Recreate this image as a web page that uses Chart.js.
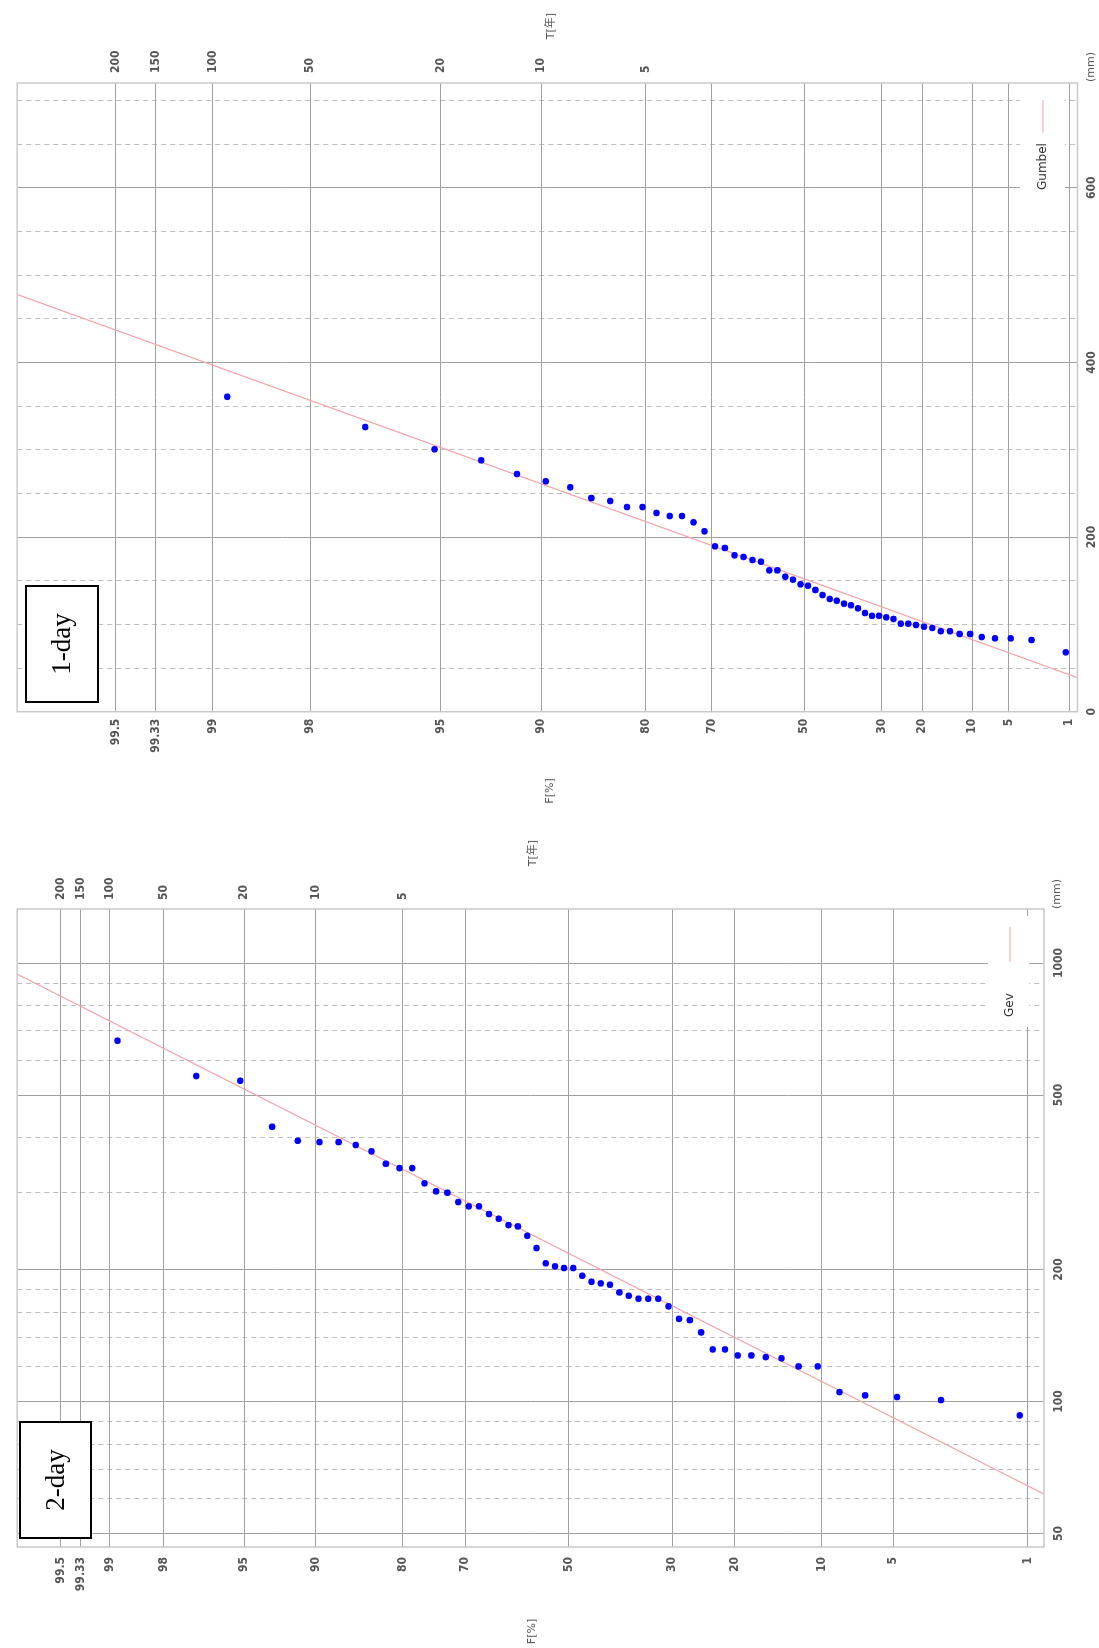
<!DOCTYPE html>
<html>
<head>
<meta charset="utf-8">
<script src="https://cdn.jsdelivr.net/npm/chart.js@4.4.1/dist/chart.umd.min.js"></script>
<style>
html, body { margin: 0; padding: 0; background: #fff; overflow: hidden; width: 1099px; height: 1648px; }
.turn { position: absolute; left: 0; transform-origin: 0 0; transform: rotate(-90deg); }
canvas { display: block; }
</style>
</head>
<body>
<div class="turn" style="top:815px;width:815px;height:1099px"><canvas id="c1" width="815" height="1099"></canvas></div>
<div class="turn" style="top:1648px;width:833px;height:1099px"><canvas id="c2" width="833" height="1099"></canvas></div>
<script>
// probability axis ticks (non-exceedance F %) and return period labels
var fTicks = [99.5, 99.333, 99, 98, 95, 90, 80, 70, 50, 30, 20, 10, 5, 1];
var fLabels = ['99.5', '99.33', '99', '98', '95', '90', '80', '70', '50', '30', '20', '10', '5', '1'];
var tTicks = [99.5, 99.333, 99, 98, 95, 90, 80];
var tLabels = ['200', '150', '100', '50', '20', '10', '5'];

// plotting positions of the 54 ranked values (F %)
var plotF = [98.89, 97.05, 95.20, 93.36, 91.51, 89.67, 87.82, 85.98, 84.13, 82.29,
             80.44, 78.60, 76.75, 74.91, 73.06, 71.22, 69.37, 67.53, 65.68, 63.84,
             61.99, 60.15, 58.30, 56.46, 54.61, 52.77, 50.92, 49.08, 47.23, 45.39,
             43.54, 41.70, 39.85, 38.01, 36.16, 34.32, 32.47, 30.63, 28.78, 26.94,
             25.09, 23.25, 21.40, 19.56, 17.71, 15.87, 14.02, 12.18, 10.33, 8.49,
             6.64, 4.80, 2.95, 1.11];

// 1-day maximum rainfall (mm)
var rain1day = [360.7, 326.0, 300.5, 287.9, 272.2, 263.9, 257.0, 244.7, 241.3, 234.4,
                234.4, 227.6, 224.1, 224.1, 216.9, 206.6, 189.4, 187.5, 179.1, 177.2,
                173.7, 171.8, 161.9, 161.9, 154.6, 151.2, 145.9, 144.3, 139.4, 133.6,
                129.1, 127.1, 123.7, 121.9, 118.4, 113.0, 109.8, 109.8, 108.1, 106.2,
                100.8, 100.8, 99.3, 97.3, 95.9, 92.2, 92.2, 89.0, 89.0, 85.5,
                84.0, 84.0, 82.1, 68.0];

// 2-day maximum rainfall (mm)
var rain2day = [665.0, 552.5, 539.0, 423.3, 393.3, 390.6, 390.6, 384.6, 372.0, 348.5,
                340.7, 340.7, 314.5, 301.6, 299.4, 285.1, 278.7, 278.7, 267.7, 261.2,
                252.6, 250.9, 238.8, 223.9, 206.7, 203.4, 201.6, 201.6, 193.6, 187.6,
                186.0, 184.7, 177.4, 174.3, 171.6, 171.6, 171.6, 164.9, 154.4, 153.4,
                143.8, 131.5, 131.5, 127.4, 127.4, 126.3, 125.5, 120.3, 120.3, 105.1,
                103.3, 102.4, 100.8, 93.0];

// fitted lines, end points
var gumbelF = [0.75, 99.75];
var gumbelMM = [39.0, 477.4];
var gevF = [0.75, 99.75];
var gevMM = [60.8, 949];

// rainfall axis grid
var mmTicks1 = [0, 50, 100, 150, 200, 250, 300, 350, 400, 450, 500, 550, 600, 650, 700];
var mmMajor1 = [0, 200, 400, 600];
var mmTicks2 = [50, 60, 70, 80, 90, 100, 120, 140, 160, 180, 200, 300, 400, 500, 600, 700, 800, 900, 1000];
var mmMajor2 = [50, 100, 200, 500, 1000];

function gumbel(f) {
    return -Math.log(-Math.log(f / 100));
}

function normInv(f) {
    var p = f / 100, q, r;
    var a = [-39.69683028665376, 220.9460984245205, -275.9285104469687, 138.3577518672690, -30.66479806614716, 2.506628277459239];
    var b = [-54.47609879822406, 161.5858368580409, -155.6989798598866, 66.80131188771972, -13.28068155288572];
    var c = [-0.007784894002430293, -0.3223964580411365, -2.400758277161838, -2.549732539343734, 4.374664141464968, 2.938163982698783];
    var d = [0.007784695709041462, 0.3224671290700398, 2.445134137142996, 3.754408661907416];
    if (p < 0.02425) {
        q = Math.sqrt(-2 * Math.log(p));
        return (((((c[0] * q + c[1]) * q + c[2]) * q + c[3]) * q + c[4]) * q + c[5]) / ((((d[0] * q + d[1]) * q + d[2]) * q + d[3]) * q + 1);
    }
    if (p > 1 - 0.02425) {
        q = Math.sqrt(-2 * Math.log(1 - p));
        return -(((((c[0] * q + c[1]) * q + c[2]) * q + c[3]) * q + c[4]) * q + c[5]) / ((((d[0] * q + d[1]) * q + d[2]) * q + d[3]) * q + 1);
    }
    q = p - 0.5;
    r = q * q;
    return (((((a[0] * r + a[1]) * r + a[2]) * r + a[3]) * r + a[4]) * r + a[5]) * q / (((((b[0] * r + b[1]) * r + b[2]) * r + b[3]) * r + b[4]) * r + 1);
}

var tickFont = { family: "'DejaVu Sans Condensed', 'DejaVu Sans', sans-serif", size: 12, weight: 'bold' };
var tickColor = '#555';

var decor = {
    id: 'decor',
    afterDraw: function(chart, args, o) {
        var ctx = chart.ctx, a = chart.chartArea;
        ctx.save();
        // legend
        ctx.fillStyle = '#fff';
        ctx.fillRect(o.leg[0], o.leg[1], o.leg[2] - o.leg[0], o.leg[3] - o.leg[1]);
        ctx.strokeStyle = '#f5a3ac';
        ctx.lineWidth = 1.2;
        ctx.beginPath();
        ctx.moveTo(o.legLine[0], o.legLine[2]);
        ctx.lineTo(o.legLine[1], o.legLine[2]);
        ctx.stroke();
        ctx.fillStyle = '#333';
        ctx.font = "12px 'DejaVu Sans', sans-serif";
        ctx.textBaseline = 'middle';
        ctx.textAlign = 'left';
        ctx.fillText(o.legText, o.legTextX, o.legLine[2]);
        // frame
        ctx.strokeStyle = '#c9c9c9';
        ctx.lineWidth = 1.5;
        ctx.strokeRect(a.left, a.top, a.right - a.left, a.bottom - a.top);
        // titles
        ctx.fillStyle = '#555';
        ctx.font = "11px 'DejaVu Sans', 'Noto Sans CJK JP', sans-serif";
        ctx.textAlign = 'center';
        ctx.fillText('F[%]', o.fTitle[0], o.fTitle[1]);
        ctx.fillText('T[年]', o.tTitle[0], o.tTitle[1]);
        ctx.fillText('(mm)', o.mmTitle[0], o.mmTitle[1]);
        // duration box
        var b = o.box;
        ctx.fillStyle = '#fff';
        ctx.fillRect(b[0], b[1], b[2] - b[0], b[3] - b[1]);
        ctx.strokeStyle = '#000';
        ctx.lineWidth = 2;
        ctx.strokeRect(b[0], b[1], b[2] - b[0], b[3] - b[1]);
        ctx.fillStyle = '#000';
        ctx.font = "27px 'Liberation Serif', 'Times New Roman', serif";
        ctx.fillText(o.boxText, (b[0] + b[2]) / 2, (b[1] + b[3]) / 2 + 1);
        ctx.restore();
    }
};

function makeChart(id, o) {
    var points = o.values.map(function(v, i) { return { x: v, y: o.prob(plotF[i]) }; });
    var fit = o.fitF.map(function(f, i) { return { x: o.fitMM[i], y: o.prob(f) }; });
    var yMin = o.prob(o.fRange[0]), yMax = o.prob(o.fRange[1]);

    return new Chart(document.getElementById(id), {
        type: 'scatter',
        data: {
            datasets: [{
                data: points,
                backgroundColor: '#0000ff',
                borderWidth: 0,
                pointRadius: 3.3
            }, {
                type: 'line',
                data: fit,
                borderColor: '#f5a3ac',
                borderWidth: 1.2,
                pointRadius: 0,
                fill: false
            }]
        },
        options: {
            responsive: false,
            animation: false,
            events: [],
            layout: { padding: { top: o.area.top, left: 0, right: 0, bottom: 0 } },
            plugins: {
                legend: { display: false },
                tooltip: { enabled: false },
                decor: o.decor
            },
            scales: {
                x: {
                    type: o.xType,
                    min: o.xRange[0],
                    max: o.xRange[1],
                    bounds: 'data',
                    afterBuildTicks: function(s) { s.ticks = o.xTicks.map(function(v) { return { value: v }; }); },
                    afterFit: function(s) { s.height = o.H - o.area.bottom; },
                    ticks: {
                        autoSkip: false, maxRotation: 0, minRotation: 0,
                        padding: o.xPad, font: tickFont, color: tickColor,
                        callback: function(v) { return o.xMajor.indexOf(v) >= 0 ? String(v) : ''; }
                    },
                    grid: {
                        drawTicks: false,
                        lineWidth: 1,
                        color: function(c) { return c.tick && o.xMajor.indexOf(c.tick.value) >= 0 ? '#a0a0a0' : '#bdbdbd'; }
                    },
                    border: {
                        display: false,
                        dash: function(c) { return c.tick && o.xMajor.indexOf(c.tick.value) >= 0 ? [] : [5, 4]; }
                    }
                },
                y: {
                    type: 'linear',
                    position: 'left',
                    min: yMin,
                    max: yMax,
                    bounds: 'data',
                    afterBuildTicks: function(s) { s.ticks = fTicks.map(function(f) { return { value: o.prob(f) }; }); },
                    afterFit: function(s) { s.width = o.area.left; },
                    ticks: {
                        autoSkip: false, padding: o.fPad, font: tickFont, color: tickColor,
                        callback: function(v, i) { return fLabels[i]; }
                    },
                    grid: { drawTicks: false, color: '#a0a0a0', lineWidth: 1 },
                    border: { display: false }
                },
                yT: {
                    type: 'linear',
                    position: 'right',
                    min: yMin,
                    max: yMax,
                    bounds: 'data',
                    afterBuildTicks: function(s) { s.ticks = tTicks.map(function(f) { return { value: o.prob(f) }; }); },
                    afterFit: function(s) { s.width = o.W - o.area.right; },
                    ticks: {
                        autoSkip: false, padding: o.tPad, font: tickFont, color: tickColor,
                        callback: function(v, i) { return tLabels[i]; }
                    },
                    grid: { drawOnChartArea: false, drawTicks: false },
                    border: { display: false }
                }
            }
        },
        plugins: [decor]
    });
}

makeChart('c1', {
    W: 815, H: 1099,
    area: { left: 103.3, right: 732, top: 10.7, bottom: 1077.5 },
    prob: gumbel,
    fRange: [0.75, 99.752],
    xType: 'linear',
    xRange: [0, 720],
    xTicks: mmTicks1,
    xMajor: mmMajor1,
    values: rain1day,
    fitF: gumbelF,
    fitMM: gumbelMM,
    fPad: 7, tPad: 10, xPad: 7,
    decor: {
        leg: [620, 1020, 732, 1065],
        legLine: [682, 715, 1043],
        legText: 'Gumbel', legTextX: 625,
        fTitle: [24, 550], tTitle: [789, 551], mmTitle: [748, 1091],
        box: [113, 26, 229, 98], boxText: '1-day'
    }
});

makeChart('c2', {
    W: 833, H: 1099,
    area: { left: 101, right: 739, top: 7, bottom: 1044 },
    prob: normInv,
    fRange: [0.798, 99.741],
    xType: 'logarithmic',
    xRange: [46.6, 1328],
    xTicks: mmTicks2,
    xMajor: mmMajor2,
    values: rain2day,
    fitF: gevF,
    fitMM: gevMM,
    fPad: 10, tPad: 9, xPad: 8,
    decor: {
        leg: [621, 988, 732, 1029],
        legLine: [686, 721, 1010],
        legText: 'Gev', legTextX: 631,
        fTitle: [16.5, 532], tTitle: [795, 533], mmTitle: [754, 1057],
        box: [110, 20, 226, 91], boxText: '2-day'
    }
});
</script>
</body>
</html>
